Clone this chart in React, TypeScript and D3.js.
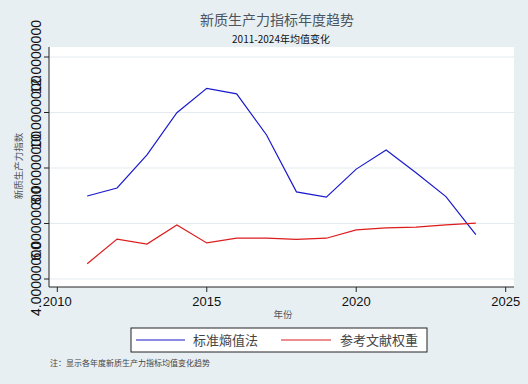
import * as d3 from "d3";

const YEARS = [2011, 2012, 2013, 2014, 2015, 2016, 2017, 2018, 2019, 2020, 2021, 2022, 2023, 2024];
const ENTROPY = [6.99, 7.28, 8.47, 9.99, 10.87, 10.67, 9.19, 7.14, 6.95, 7.96, 8.65, 7.83, 6.97, 5.6];
const LITERATURE = [4.55, 5.44, 5.26, 5.95, 5.3, 5.47, 5.47, 5.43, 5.47, 5.77, 5.84, 5.87, 5.95, 6.01];
const X_TICKS = [2010, 2015, 2020, 2025];
const Y_TICKS = [4, 6, 8, 10, 12];
const Y_TICK_LABELS = ["4.00000000", "6.00000000", "8.00000000", "10.0000000", "12.0000000"];
const SERIES_NAMES = ["标准熵值法", "参考文献权重"];

const W = 528;
const H = 384;
const BG = "#e8eff3";
const CJK = "'Noto Sans CJK SC', sans-serif";
const SANS = "'Liberation Sans', Arial, sans-serif";

export default function App() {
  const plot = { left: 49, right: 514, top: 47, bottom: 287 };
  const x = d3.scaleLinear().domain([2010, 2025]).range([57.3, 505.7]);
  const y = d3.scaleLinear().domain([4, 12]).range([279, 57]);

  const line = d3
    .line<number>()
    .x((_, i) => x(YEARS[i]))
    .y((d) => y(d));

  return (
    <svg
      width={W}
      height={H}
      style={{ position: "absolute", left: 0, top: 0, display: "block" }}
    >
      <rect width={W} height={H} fill={BG} />
      <rect
        x={plot.left}
        y={plot.top}
        width={plot.right - plot.left}
        height={plot.bottom - plot.top}
        fill="#ffffff"
      />

      {/* gridlines */}
      {Y_TICKS.map((t) => (
        <line
          key={t}
          x1={plot.left}
          x2={plot.right}
          y1={y(t)}
          y2={y(t)}
          stroke="#e3ebee"
          strokeWidth={1}
        />
      ))}

      {/* series */}
      <path d={line(ENTROPY)!} fill="none" stroke="#1a1acc" strokeWidth={1.2} />
      <path d={line(LITERATURE)!} fill="none" stroke="#dd1c1c" strokeWidth={1.2} />

      {/* axes */}
      <line x1={plot.left} x2={plot.left} y1={plot.top} y2={plot.bottom} stroke="#222" />
      <line x1={plot.left} x2={plot.right} y1={plot.bottom} y2={plot.bottom} stroke="#222" />

      {Y_TICKS.map((t, i) => (
        <g key={t}>
          <line x1={plot.left - 5} x2={plot.left} y1={y(t)} y2={y(t)} stroke="#222" />
          <text
            transform={`translate(${plot.left - 8},${y(t)}) rotate(-90)`}
            textAnchor="middle"
            fontSize={14}
            fontFamily={SANS}
            fill="#111"
          >
            {Y_TICK_LABELS[i]}
          </text>
        </g>
      ))}

      {X_TICKS.map((t) => (
        <g key={t}>
          <line x1={x(t)} x2={x(t)} y1={plot.bottom} y2={plot.bottom + 5} stroke="#222" />
          <text
            x={x(t)}
            y={plot.bottom + 19}
            textAnchor="middle"
            fontSize={13}
            fontFamily={SANS}
            fill="#111"
          >
            {t}
          </text>
        </g>
      ))}

      {/* titles */}
      <text x={277} y={25} textAnchor="middle" fontSize={14} fontFamily={CJK} fill="#4a5560">
        新质生产力指标年度趋势
      </text>
      <text x={281} y={43} textAnchor="middle" fontSize={10} fontFamily={CJK} fill="#111">
        2011-2024年均值变化
      </text>
      <text x={283} y={318} textAnchor="middle" fontSize={9.5} fontFamily={CJK} fill="#555">
        年份
      </text>
      <text
        transform="translate(22,166) rotate(-90)"
        textAnchor="middle"
        fontSize={9.5}
        fontFamily={CJK}
        fill="#555"
      >
        新质生产力指数
      </text>

      {/* legend */}
      <rect x={131} y={328} width={296} height={24} fill="#ffffff" stroke="#222" />
      <line x1={136} x2={185} y1={340} y2={340} stroke="#1a1acc" strokeWidth={1.2} />
      <text x={193} y={345} fontSize={13} fontFamily={CJK} fill="#444">
        {SERIES_NAMES[0]}
      </text>
      <line x1={281} x2={331} y1={340} y2={340} stroke="#dd1c1c" strokeWidth={1.2} />
      <text x={340} y={345} fontSize={13} fontFamily={CJK} fill="#444">
        {SERIES_NAMES[1]}
      </text>

      <text x={50} y={366} fontSize={8} fontFamily={CJK} fill="#444">
        注：显示各年度新质生产力指标均值变化趋势
      </text>
    </svg>
  );
}
